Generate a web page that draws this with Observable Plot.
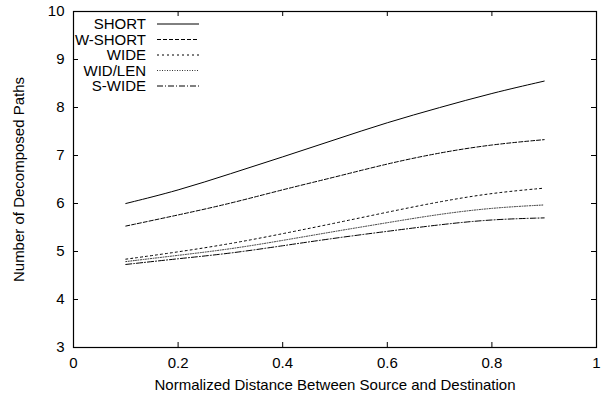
<!DOCTYPE html>
<html><head><meta charset="utf-8">
<script src="https://cdn.jsdelivr.net/npm/d3@7"></script>
<script src="https://cdn.jsdelivr.net/npm/@observablehq/plot@0.6"></script>
<style>html,body{margin:0;padding:0;background:#fff}svg{display:block}</style>
</head><body><div id="chart"></div>
<script>
const xValues   = [0.1, 0.2, 0.3, 0.4, 0.5, 0.6, 0.7, 0.8, 0.9];
const shortVals = [6.00, 6.27, 6.62, 6.97, 7.33, 7.69, 8.00, 8.30, 8.55];
const wShortVals= [5.53, 5.76, 6.00, 6.29, 6.55, 6.83, 7.06, 7.23, 7.33];
const wideVals  = [4.84, 4.99, 5.16, 5.37, 5.59, 5.82, 6.04, 6.22, 6.32];
const widLenVals= [4.79, 4.92, 5.05, 5.23, 5.42, 5.60, 5.78, 5.91, 5.97];
const sWideVals = [4.73, 4.85, 4.96, 5.12, 5.28, 5.42, 5.56, 5.67, 5.70];
const seriesNames = ["SHORT", "W-SHORT", "WIDE", "WID/LEN", "S-WIDE"];
const seriesValues = [shortVals, wShortVals, wideVals, widLenVals, sWideVals];
const xTicks = [0, 0.2, 0.4, 0.6, 0.8, 1];
const yTicks = [3, 4, 5, 6, 7, 8, 9, 10];
const xLabel = "Normalized Distance Between Source and Destination";
const yLabel = "Number of Decomposed Paths";

// styles
const dashes = [null, "4,2", "2,3", "1,1.5", "6,2,1,2"];
const colors = ["#000", "#000", "#000", "#333", "#000"];
const W = 603, H = 394, mL = 73, mR = 7, mT = 11, mB = 47;
const pw = W - mL - mR, ph = H - mT - mB, tk = 5;

const series = seriesNames.map((name, i) => xValues.map((x, j) => ({name, x, y: seriesValues[i][j]})));

const lineMarks = series.map((data, i) => Plot.line(data, {
  x: "x", y: "y", curve: "basis", stroke: colors[i], strokeWidth: 1,
  strokeDasharray: dashes[i] || undefined
}));

const plot = Plot.plot({
  width: W, height: H,
  marginLeft: mL, marginRight: mR, marginTop: mT, marginBottom: mB,
  style: {fontFamily: "'Liberation Sans', Arial, Helvetica, sans-serif", fontSize: "15px", background: "#fff", color: "#000"},
  x: {domain: [0, 1]},
  y: {domain: [3, 10]},
  marks: [
    Plot.axisX(xTicks, {tickSize: 0, tickPadding: 10, tickFormat: d => String(d), fontSize: 15,
      label: xLabel, labelAnchor: "center", labelArrow: "none", labelOffset: 42}),
    Plot.axisY(yTicks, {tickSize: 0, tickPadding: 9, tickFormat: d => String(d), fontSize: 15,
      label: yLabel, labelAnchor: "center", labelArrow: "none", labelOffset: 60}),
    Plot.tickY(yTicks, {y: d => d, insetRight: pw - tk, stroke: "#000"}),
    Plot.tickY(yTicks, {y: d => d, insetLeft: pw - tk, stroke: "#000"}),
    Plot.tickX(xTicks, {x: d => d, insetTop: ph - tk, stroke: "#000"}),
    Plot.tickX(xTicks, {x: d => d, insetBottom: ph - tk, stroke: "#000"}),
    ...lineMarks,
    Plot.frame({stroke: "#000", strokeWidth: 1.2})
  ]
});
document.getElementById("chart").appendChild(plot);

// legend (top-left inside plot)
const svg = d3.select(plot);
const lg = svg.append("g").attr("font-family", "'Liberation Sans', Arial, Helvetica, sans-serif").attr("font-size", 15);
seriesNames.forEach((name, i) => {
  const y = 24 + i * 15.5;
  lg.append("text").attr("x", 146).attr("y", y).attr("dy", "0.35em").attr("text-anchor", "end").attr("fill", "#000").text(name);
  const ln = lg.append("line").attr("x1", 157).attr("x2", 199).attr("y1", y).attr("y2", y)
    .attr("stroke", colors[i]).attr("stroke-width", 1);
  if (dashes[i]) ln.attr("stroke-dasharray", dashes[i]);
});
</script></body></html>
